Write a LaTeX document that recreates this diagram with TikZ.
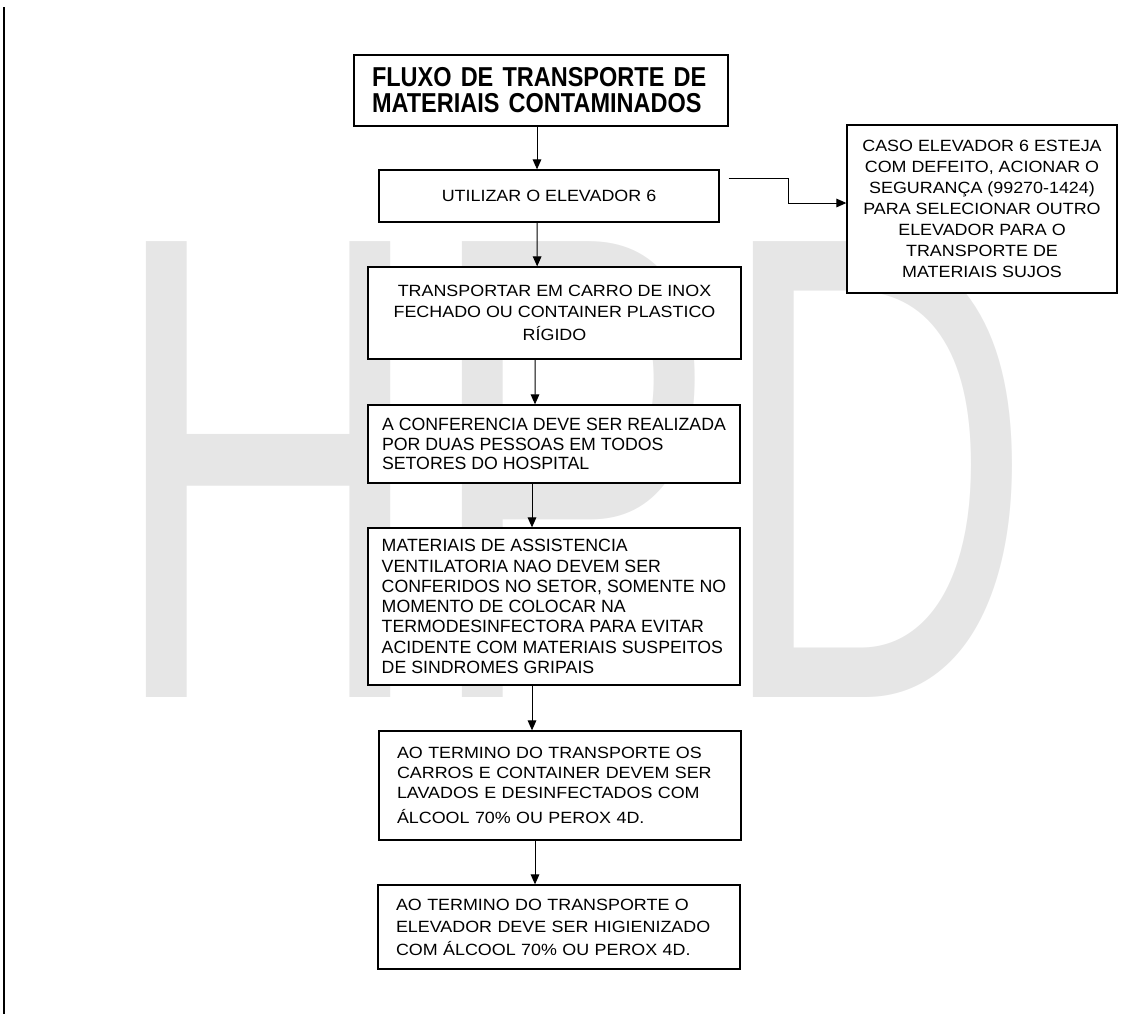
\documentclass[tikz,border=0pt]{standalone}
\usepackage{fontspec}
\usepackage{tikz}
\usetikzlibrary{arrows.meta}
\setmainfont{Liberation Sans}
\newfontfamily\boxfont[FakeStretch=1.1]{Liberation Sans}
\newfontfamily\titlefont[FakeStretch=0.86]{Liberation Sans}
\newfontfamily\markfont[FakeStretch=0.66]{Liberation Sans}
\definecolor{hpdgray}{RGB}{230,230,230}

\tikzset{
  flowbox/.style={draw, line width=1pt, fill=white, inner xsep=13.5pt, inner ysep=0pt},
  bodytext/.style={font=\boxfont\fontsize{12.2}{16}\selectfont},
  densetext/.style={font=\fontsize{13.3}{14.8}\selectfont},
  flowarrow/.style={line width=0.75pt, -{Triangle[length=7.5pt,width=6.5pt]}},
}

\begin{document}
\begin{tikzpicture}[x=0.75pt,y=0.75pt,yscale=-1,xscale=1]
\useasboundingbox (0,0) rectangle (1127,1014);

% Watermark
\draw (110,697) node [anchor=base west, inner sep=0pt, text=hpdgray, font=\markfont\fontsize{497}{497}\selectfont] (hpd) {HPD};

%Straight Lines
\draw [line width=1.5pt] (4,7) -- (4,1014);

% Text Node
\draw (541,90.5) node [flowbox, text width=253.5pt, minimum height=53.25pt, align=left, font=\titlefont\bfseries\fontsize{20.5}{19.5}\selectfont] (fluxo) {FLUXO DE TRANSPORTE DE\\MATERIAIS CONTAMINADOS};
% Text Node
\draw (549,196) node [flowbox, bodytext, minimum width=255pt, minimum height=39pt, align=center] (elevador) {UTILIZAR O ELEVADOR 6};
% Text Node
\draw (982,209) node [flowbox, font=\boxfont\fontsize{12.2}{15.75}\selectfont, inner xsep=2pt, minimum width=202.5pt, minimum height=126pt, align=center] (caso) {CASO ELEVADOR 6 ESTEJA\\COM DEFEITO, ACIONAR O\\SEGURANÇA (99270-1424)\\PARA SELECIONAR OUTRO\\ELEVADOR PARA O\\TRANSPORTE DE\\MATERIAIS SUJOS};
% Text Node
\draw (554.5,313) node [flowbox, bodytext, inner xsep=2pt, minimum width=279.75pt, minimum height=69pt, align=center] (carro) {TRANSPORTAR EM CARRO DE INOX\\FECHADO OU CONTAINER PLASTICO\\[1.5pt]RÍGIDO};
% Text Node
\draw (554,444) node [flowbox, densetext, inner xsep=2pt, minimum width=279pt, minimum height=58.5pt, align=left] (conferencia) {A CONFERENCIA DEVE SER REALIZADA\\POR DUAS PESSOAS EM TODOS\\SETORES DO HOSPITAL};
% Text Node
\draw (554,606.5) node [flowbox, font=\fontsize{13.3}{15.2}\selectfont, inner xsep=2pt, minimum width=279pt, minimum height=117.75pt, align=left] (ventilatoria) {MATERIAIS DE ASSISTENCIA\\VENTILATORIA NAO DEVEM SER\\CONFERIDOS NO SETOR, SOMENTE NO\\MOMENTO DE COLOCAR NA\\TERMODESINFECTORA PARA EVITAR\\ACIDENTE COM MATERIAIS SUSPEITOS\\DE SINDROMES GRIPAIS};
% Text Node
\draw (560,785.5) node [flowbox, font=\boxfont\fontsize{12.2}{15}\selectfont, text width=244.5pt, minimum height=81.75pt, align=left] (lavagem) {AO TERMINO DO TRANSPORTE OS\\CARROS E CONTAINER DEVEM SER\\LAVADOS E DESINFECTADOS COM\\[3.5pt]ÁLCOOL 70\% OU PEROX 4D.};
% Text Node
\draw (559,927) node [flowbox, font=\boxfont\fontsize{12.2}{16.9}\selectfont, text width=244.5pt, minimum height=63pt, align=left] (higiene) {AO TERMINO DO TRANSPORTE O\\ELEVADOR DEVE SER HIGIENIZADO\\COM ÁLCOOL 70\% OU PEROX 4D.};

%Straight Lines
\draw [flowarrow] ([xshift=-3pt]fluxo.south) -- ([xshift=-9pt]elevador.north);
%Straight Lines
\draw [flowarrow] ([xshift=-9pt]elevador.south) -- ([xshift=-13pt]carro.north);
%Straight Lines
\draw [flowarrow] ([xshift=-14.6pt]carro.south) -- ([xshift=-14.25pt]conferencia.north);
%Straight Lines
\draw [flowarrow] ([xshift=-16.5pt]conferencia.south) -- ([xshift=-16.5pt]ventilatoria.north);
%Straight Lines
\draw [flowarrow] ([xshift=-16.5pt]ventilatoria.south) -- ([xshift=-21pt]lavagem.north);
%Straight Lines
\draw [flowarrow] ([xshift=-18.75pt]lavagem.south) -- ([xshift=-18pt]higiene.north);
%Connector
\coordinate (elevout) at ([xshift=6.75pt,yshift=-13.5pt]elevador.east);
\draw [flowarrow] (elevout) -- ++(60,0) |- ([yshift=-4.5pt]caso.west);

\end{tikzpicture}
\end{document}
